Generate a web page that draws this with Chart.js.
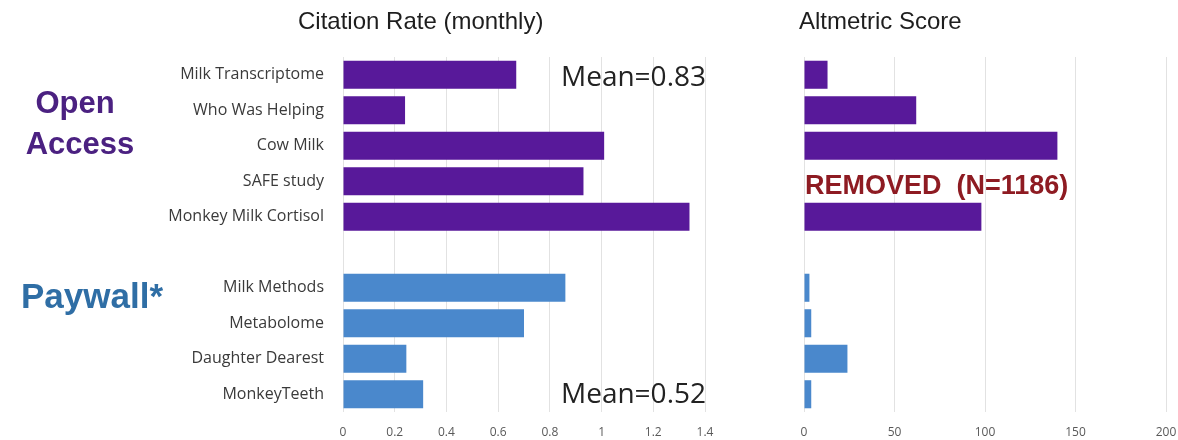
<!DOCTYPE html>
<html>
<head>
<meta charset="utf-8">
<script src="https://cdn.jsdelivr.net/npm/chart.js@4.4.1/dist/chart.umd.min.js"></script>
<style>
  body { margin: 0; background: #fff; }
  #wrap { position: relative; width: 1178px; height: 440px; }
  canvas { position: absolute; top: 0; }
  #citas { left: 0; }
  #altmetric { left: 760px; }
</style>
</head>
<body>
<div id="wrap">
  <canvas id="citas" width="740" height="440"></canvas>
  <canvas id="altmetric" width="418" height="440"></canvas>
</div>
<script>
// datos
const articulos = ["Milk Transcriptome", "Who Was Helping", "Cow Milk", "SAFE study", "Monkey Milk Cortisol", "",
                   "Milk Methods", "Metabolome", "Daughter Dearest", "MonkeyTeeth"]
const citasOpen = [0.67, 0.24, 1.01, 0.93, 1.34, null, null, null, null, null]
const citasPaywall = [null, null, null, null, null, null, 0.86, 0.70, 0.245, 0.31]
const altOpen = [13, 62, 140, null, 98, null, null, null, null, null]
const altPaywall = [null, null, null, null, null, null, 3, 4, 24, 4]
const ticksCitas = ["0", "0.2", "0.4", "0.6", "0.8", "1", "1.2", "1.4"]
const ticksAlt = ["0", "50", "100", "150", "200"]
const medias = ["Mean=0.83", "Mean=0.52"]
const removido = "REMOVED  (N=1186)"

const morado = "#58199a"
const azul = "#4a88cc"
const grilla = "#e2e2e2"

// dibuja textos sueltos encima del grafico
function pluginTextos(id, items) {
    return {
        id: id,
        afterDraw(chart) {
            const ctx = chart.ctx
            items.forEach((t) => {
                const pos = t.pos(chart)
                ctx.save()
                ctx.font = t.font
                ctx.fillStyle = t.color
                ctx.textAlign = t.align || "left"
                ctx.textBaseline = "middle"
                ctx.fillText(t.text, pos.x, pos.y)
                ctx.restore()
            })
        }
    }
}

function datasets(abierto, pago) {
    const comun = { grouped: false, barPercentage: 0.79, categoryPercentage: 1 }
    return [
        { label: "Open Access", data: abierto, backgroundColor: morado, ...comun },
        { label: "Paywall", data: pago, backgroundColor: azul, ...comun }
    ]
}

function ejeX(max, paso, etiquetas) {
    return {
        min: 0,
        max: max,
        ticks: {
            stepSize: paso,
            padding: 0,
            color: "#595959",
            font: { family: "Open Sans", size: 12 },
            callback: (v, i) => etiquetas[i]
        },
        // marcas invisibles para separar las etiquetas del area
        grid: { color: grilla, drawTicks: true, tickLength: 13, tickColor: "rgba(0,0,0,0)" },
        border: { display: false },
        afterFit: (s) => { s.height = 28 }
    }
}

const textosCitas = pluginTextos("textosCitas", [
    { text: "Citation Rate (monthly)", font: '24px "Liberation Sans"', color: "#1e1e1e", pos: () => ({ x: 298, y: 22 }) },
    { text: "Open", font: 'bold 31px "Liberation Sans"', color: "#4b2181", align: "center", pos: () => ({ x: 75, y: 104 }) },
    { text: "Access", font: 'bold 31px "Liberation Sans"', color: "#4b2181", align: "center", pos: () => ({ x: 80, y: 145 }) },
    { text: "Paywall*", font: 'bold 35px "Liberation Sans"', color: "#2f6ea5", align: "center", pos: () => ({ x: 92, y: 298 }) },
    { text: medias[0], font: '28px "Open Sans"', color: "#222", align: "right",
      pos: (c) => ({ x: c.chartArea.right + 1, y: c.scales.y.getPixelForValue(0) + 3 }) },
    { text: medias[1], font: '28px "Open Sans"', color: "#222", align: "right",
      pos: (c) => ({ x: c.chartArea.right + 1, y: c.scales.y.getPixelForValue(articulos.length - 1) + 1 }) }
])

const textosAlt = pluginTextos("textosAlt", [
    { text: "Altmetric Score", font: '24px "Liberation Sans"', color: "#1e1e1e", pos: () => ({ x: 39, y: 22 }) },
    { text: removido, font: 'bold 27px "Liberation Sans"', color: "#8e1b22",
      pos: (c) => ({ x: c.scales.x.getPixelForValue(0) + 1, y: c.scales.y.getPixelForValue(3) + 5 }) }
])

new Chart(document.getElementById("citas"), {
    type: "bar",
    data: { labels: articulos, datasets: datasets(citasOpen, citasPaywall) },
    options: {
        indexAxis: "y",
        responsive: false,
        animation: false,
        layout: { padding: { top: 57, right: 35, bottom: 0, left: 0 } },
        plugins: { legend: { display: false }, tooltip: { enabled: false } },
        scales: {
            x: ejeX(1.4, 0.2, ticksCitas),
            y: {
                ticks: { autoSkip: false, padding: 11, color: "#3a3a3a", font: { family: "Open Sans", size: 16 } },
                grid: { display: false },
                border: { display: false },
                afterFit: (s) => { s.width = 343 }
            }
        }
    },
    plugins: [textosCitas]
})

new Chart(document.getElementById("altmetric"), {
    type: "bar",
    data: { labels: articulos, datasets: datasets(altOpen, altPaywall) },
    options: {
        indexAxis: "y",
        responsive: false,
        animation: false,
        layout: { padding: { top: 57, right: 12, bottom: 0, left: 44 } },
        plugins: { legend: { display: false }, tooltip: { enabled: false } },
        scales: {
            x: ejeX(200, 50, ticksAlt),
            y: { display: false }
        }
    },
    plugins: [textosAlt]
})
</script>
</body>
</html>
